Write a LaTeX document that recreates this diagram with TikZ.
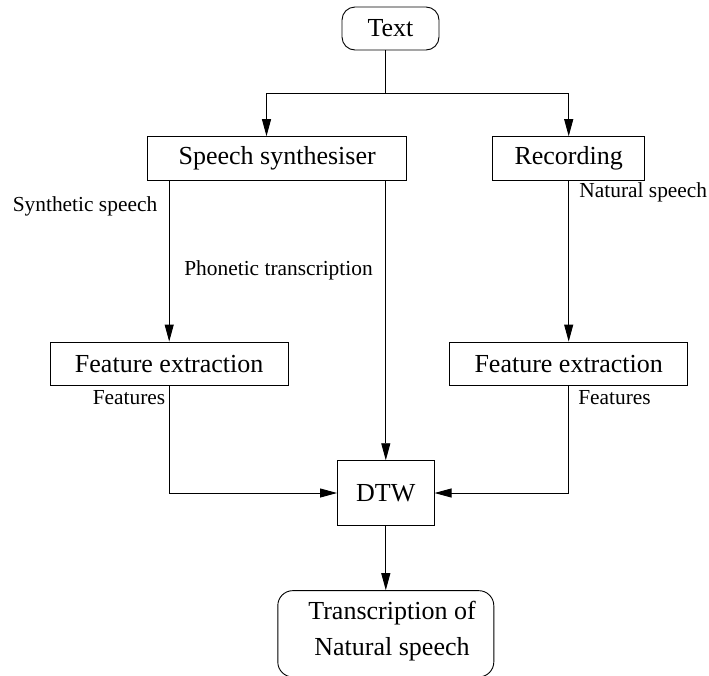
\documentclass[tikz,border=0pt]{standalone}
\usepackage{fontspec}
\setmainfont{Liberation Serif}
\usetikzlibrary{arrows.meta}
\begin{document}
\begin{tikzpicture}[x=1pt,y=-1pt,
  box/.style={draw, line width=0.9pt, inner sep=0pt, font=\fontsize{26}{30}\selectfont},
  roundbox/.style={box, rounded corners=13pt},
  lbl/.style={inner sep=0pt, font=\fontsize{21.4}{25}\selectfont},
  link/.style={line width=0.9pt},
  flow/.style={link, -{Triangle[length=17pt,width=9pt]}}]
\useasboundingbox (0,0) rectangle (709,675);

% boxes
\node[roundbox, minimum width=97pt, minimum height=43pt] (text) at (390.5,28.5) {Text};
\node[box, minimum width=259pt, minimum height=43.3pt] (ss) at (277.2,158.3) {Speech synthesiser};
\node[box, minimum width=151.6pt, minimum height=43.3pt] (rec) at (568.7,158.3) {Recording};
\node[box, minimum width=238.3pt, minimum height=43.3pt] (lfe) at (169.2,363.7) {Feature extraction};
\node[box, minimum width=237.7pt, minimum height=43.3pt] (rfe) at (568.7,363.7) {Feature extraction};
\node[box, minimum width=96.6pt, minimum height=64.6pt] (dtw) at (385.8,493) {DTW};
\node[roundbox, rounded corners=15pt, minimum width=216pt, minimum height=86.3pt] (trans) at (385.8,633.8) {};
\node[inner sep=0pt, align=center, font=\fontsize{26}{36}\selectfont] (transtext) at (392,631) {Transcription of\\Natural speech};

% split of the text input
\coordinate (split) at (385.3,93);
\coordinate (sl) at (266.5,93);
\coordinate (sr) at (568.7,93);
\draw[link] (text.south -| split) -- (split);
\draw[link] (sl) -- (sr);
\draw[flow] (sl) -- (sl |- ss.north);
\draw[flow] (sr) -- (rec.north);

% synthetic branch
\draw[flow] (ss.south -| lfe.north) -- (lfe.north);
\draw[flow] (ss.south -| dtw.north) -- (dtw.north);

% natural branch
\draw[flow] (rec.south) -- (rfe.north);

% features into DTW
\draw[flow] (lfe.south) |- (dtw.west);
\draw[flow] (rfe.south) |- (dtw.east);
\draw[flow] (dtw.south) -- (trans.north);

% labels
\node[lbl] (lsyn) at (85,206) {Synthetic speech};
\node[lbl] (lpho) at (278.5,270.7) {Phonetic transcription};
\node[lbl] (lnat) at (643.3,192.7) {Natural speech};
\node[lbl] (lfl) at (129,398) {Features};
\node[lbl] (lfr) at (614.5,398) {Features};
\end{tikzpicture}
\end{document}
